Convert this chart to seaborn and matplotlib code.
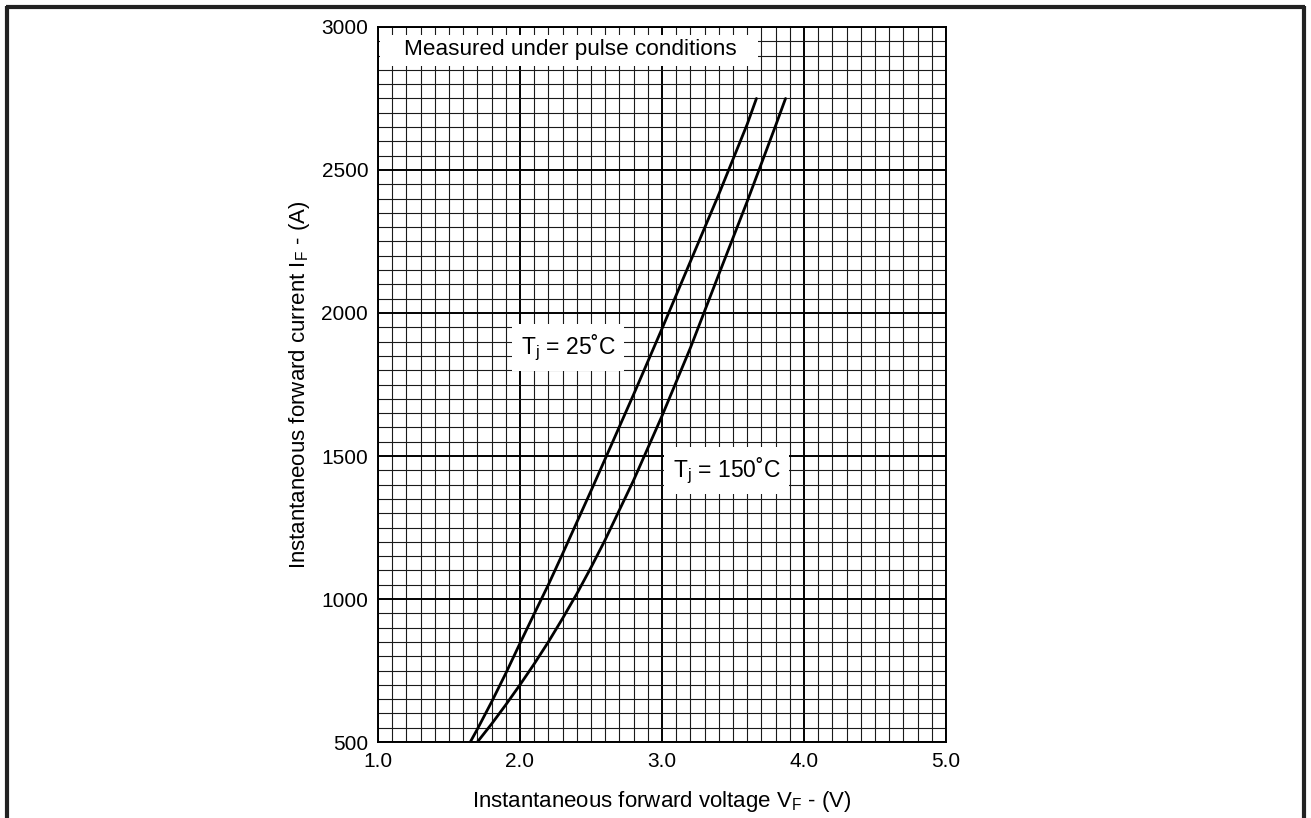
import numpy as np
import pandas as pd
import matplotlib
matplotlib.use("Agg")
import matplotlib.pyplot as plt
import seaborn as sns
from matplotlib.lines import Line2D
from matplotlib.patches import Rectangle
from matplotlib.ticker import MultipleLocator

# ---- data ----
v_25 = [1.65, 1.70, 1.80, 1.90, 2.00, 2.10, 2.20, 2.30, 2.40, 2.50, 2.60,
        2.80, 3.00, 3.20, 3.40, 3.60, 3.665]
i_25 = [500, 545, 640, 740, 845, 948, 1050, 1158, 1268, 1378, 1490,
        1715, 1945, 2180, 2415, 2660, 2750]
v_150 = [1.70, 1.80, 1.90, 2.00, 2.10, 2.20, 2.30, 2.40, 2.50, 2.60,
         2.80, 3.00, 3.20, 3.40, 3.60, 3.80, 3.87]
i_150 = [500, 563, 630, 700, 773, 850, 932, 1018, 1110, 1207,
         1415, 1640, 1878, 2135, 2390, 2655, 2750]
x_ticks = [1.0, 2.0, 3.0, 4.0, 5.0]
x_tick_labels = ["1.0", "2.0", "3.0", "4.0", "5.0"]
y_ticks = [500, 1000, 1500, 2000, 2500, 3000]
y_tick_labels = ["500", "1000", "1500", "2000", "2500", "3000"]
series_names = ["T$_\\mathrm{j}$ = 25˚C", "T$_\\mathrm{j}$ = 150˚C"]
note_text = "Measured under pulse conditions"
x_label = "Instantaneous forward voltage V$_\\mathrm{F}$ - (V)"
y_label = "Instantaneous forward current I$_\\mathrm{F}$ - (A)"

df = pd.concat([
    pd.DataFrame({"V": v_25, "I": i_25, "T": "25"}),
    pd.DataFrame({"V": v_150, "I": i_150, "T": "150"}),
])

sns.set_style("white")
plt.rcParams["font.family"] = ["Liberation Sans", "DejaVu Sans"]
plt.rcParams["mathtext.fontset"] = "custom"
plt.rcParams["mathtext.rm"] = "Liberation Sans"
plt.rcParams["mathtext.it"] = "Liberation Sans:italic"
plt.rcParams["mathtext.bf"] = "Liberation Sans:bold"
for k in ["text.color", "axes.labelcolor", "xtick.color", "ytick.color"]:
    plt.rcParams[k] = "black"

fig = plt.figure(figsize=(13.11, 8.18), dpi=100)
ax = fig.add_axes([0.2883, 0.0929, 0.4333, 0.8741])

sns.lineplot(data=df, x="V", y="I", hue="T", units="T", estimator=None,
             palette={"25": "black", "150": "black"}, linewidth=2.0,
             legend=False, sort=False, ax=ax, zorder=5)

ax.set_xlim(1.0, 5.0)
ax.set_ylim(500, 3000)
ax.xaxis.set_minor_locator(MultipleLocator(0.1))
ax.yaxis.set_minor_locator(MultipleLocator(50))
ax.set_xticks(x_ticks)
ax.set_xticklabels(x_tick_labels)
ax.set_yticks(y_ticks)
ax.set_yticklabels(y_tick_labels)
ax.grid(which="major", color="black", linewidth=1.4, zorder=1)
ax.grid(which="minor", color="#1a1a1a", linewidth=0.8, zorder=1)
ax.set_axisbelow(True)
ax.tick_params(axis="both", which="both", length=0, labelsize=15, pad=7)
for s in ax.spines.values():
    s.set_color("black")
    s.set_linewidth(1.4)

ax.set_xlabel(x_label, fontsize=16, labelpad=13)
ax.set_ylabel(y_label, fontsize=16, labelpad=7)

# note box at top-left
ax.add_patch(Rectangle((0.004, 0.945), 0.665, 0.044, transform=ax.transAxes,
                       facecolor="white", edgecolor="none", zorder=3))
ax.text(0.339, 0.968, note_text, transform=ax.transAxes, ha="center",
        va="center", fontsize=16.2, zorder=4)

# series labels
ax.text(2.34, 1880, series_names[0], ha="center", va="center", fontsize=16.5,
        zorder=4, bbox=dict(facecolor="white", edgecolor="none", pad=6))
ax.text(3.455, 1450, series_names[1], ha="center", va="center", fontsize=16.5,
        zorder=4, bbox=dict(facecolor="white", edgecolor="none", pad=6))

# outer frame (top, left, right)
fw = 3.0
fig.add_artist(Line2D([0.0045, 0.9955], [0.9915, 0.9915], transform=fig.transFigure,
                      color="#222222", linewidth=fw, solid_capstyle="butt"))
fig.add_artist(Line2D([0.0053, 0.0053], [0.0, 0.993], transform=fig.transFigure,
                      color="#222222", linewidth=fw, solid_capstyle="butt"))
fig.add_artist(Line2D([0.9947, 0.9947], [0.0, 0.993], transform=fig.transFigure,
                      color="#222222", linewidth=fw, solid_capstyle="butt"))

fig.savefig("out.png", dpi=100)
